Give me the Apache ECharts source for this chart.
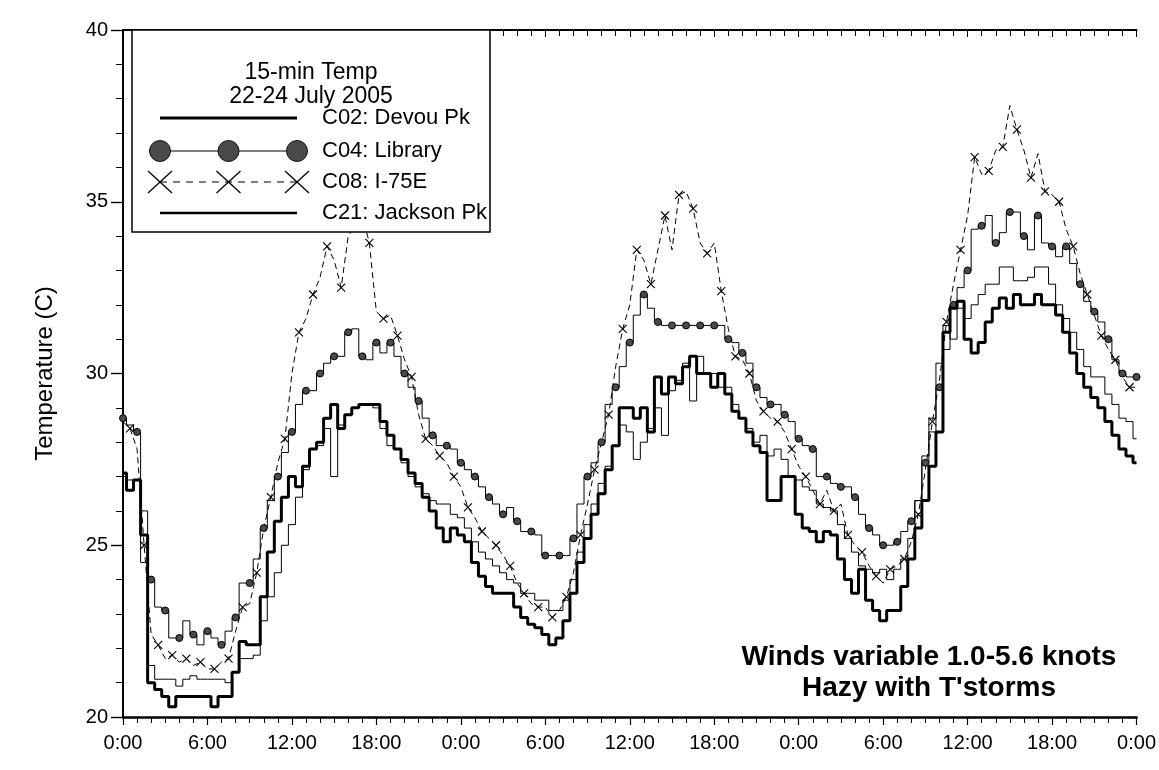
<!DOCTYPE html>
<html>
<head>
<meta charset="utf-8">
<title>15-min Temp, 22-24 July 2005</title>
<script src="https://cdn.jsdelivr.net/npm/echarts@6/dist/echarts.min.js"></script>
<style>
  html, body { margin: 0; padding: 0; background: #fff; }
  #chart { width: 1159px; height: 770px; }
</style>
</head>
<body>
<div id="chart"></div>
<script>
// Time of each reading, in hours since 0:00 on 22 July (half-hourly, 0..72)
const hours = [];
for (let i = 0; i <= 144; i++) hours.push(i * 0.5);

// Clock labels for the 6-hour ticks
const clockLabels = ['0:00', '6:00', '12:00', '18:00'];

// Air temperature (C) per station
const devouPk = [
  27.1, 26.6, 26.9, 25.3, 21.0, 20.8, 20.6, 20.3, 20.6, 20.6,
  20.6, 20.6, 20.6, 20.3, 20.6, 20.6, 21.3, 22.2, 22.1, 22.1,
  23.5, 24.8, 25.7, 26.4, 27.0, 26.7, 27.3, 27.8, 28.0, 28.7,
  29.1, 28.4, 28.8, 29.0, 29.1, 29.1, 29.1, 28.6, 28.2, 27.8,
  27.5, 27.1, 26.8, 26.4, 26.0, 25.5, 25.1, 25.5, 25.3, 25.1,
  24.5, 24.1, 23.8, 23.6, 23.6, 23.6, 23.2, 22.9, 22.7, 22.6,
  22.4, 22.1, 22.3, 22.8, 23.6, 24.5, 25.2, 25.9, 26.5, 27.2,
  27.9, 29.0, 29.0, 28.7, 29.0, 28.3, 29.9, 29.4, 29.9, 29.7,
  30.2, 30.5, 30.0, 30.0, 29.6, 30.0, 29.4, 28.9, 28.7, 28.3,
  27.9, 27.7, 26.3, 26.3, 27.0, 27.0, 25.9, 25.5, 25.4, 25.1,
  25.4, 25.3, 24.6, 24.0, 23.6, 24.3, 23.4, 23.1, 22.8, 23.1,
  23.1, 23.8, 24.6, 25.5, 26.3, 27.3, 28.3, 31.2, 31.9, 32.1,
  31.0, 30.6, 30.9, 31.5, 31.9, 32.2, 31.9, 32.3, 32.0, 32.0,
  32.3, 32.0, 32.0, 31.7, 31.2, 30.6, 30.0, 29.6, 29.3, 29.0,
  28.6, 28.2, 27.8, 27.6, 27.4
];

const library = [
  28.7, 28.5, 28.3, 26.0, 24.0, 23.2, 23.1, 22.3, 22.3, 22.8,
  22.4, 22.1, 22.5, 22.3, 22.1, 22.5, 22.9, 23.9, 23.9, 24.6,
  25.5, 26.3, 27.0, 27.7, 28.3, 29.1, 29.5, 29.5, 30.0, 30.3,
  30.5, 30.5, 31.2, 31.3, 30.5, 30.4, 30.9, 30.6, 30.9, 30.5,
  30.0, 29.6, 29.2, 28.7, 28.2, 27.9, 27.9, 27.8, 27.4, 27.2,
  27.0, 26.7, 26.4, 26.2, 25.9, 26.1, 25.7, 25.4, 25.4, 25.3,
  24.7, 24.7, 24.7, 24.7, 25.2, 26.2, 27.0, 27.4, 28.0, 29.1,
  29.6, 30.2, 30.9, 31.7, 32.3, 31.9, 31.5, 31.4, 31.4, 31.4,
  31.4, 31.4, 31.4, 31.4, 31.4, 31.4, 31.0, 30.9, 30.6, 30.3,
  29.6, 29.3, 29.1, 29.1, 28.8, 28.6, 28.1, 27.9, 27.8, 27.0,
  27.0, 26.8, 26.7, 26.7, 26.4, 25.9, 25.5, 25.3, 25.0, 25.0,
  25.1, 25.4, 25.7, 26.3, 27.4, 28.3, 29.6, 30.7, 32.0, 32.5,
  33.0, 34.2, 34.3, 34.6, 33.8, 34.1, 34.7, 34.7, 34.0, 33.6,
  34.6, 33.8, 33.7, 33.4, 33.7, 33.2, 32.6, 32.1, 31.8, 31.5,
  31.0, 30.4, 30.0, 29.9, 29.9
];

const i75e = [
  28.6, 28.4, 27.8, 25.0, 22.4, 22.1, 21.7, 21.8, 21.6, 21.7,
  21.5, 21.6, 21.4, 21.4, 21.6, 21.7, 22.5, 23.2, 23.3, 24.2,
  25.5, 26.4, 27.4, 28.1, 30.0, 31.2, 31.6, 32.3, 32.8, 33.7,
  33.3, 32.5, 34.0, 34.3, 34.6, 33.8, 31.8, 31.6, 31.7, 31.1,
  30.4, 29.9, 28.8, 28.1, 27.9, 27.6, 27.4, 27.0, 26.7, 26.1,
  25.8, 25.4, 25.2, 25.0, 24.7, 24.4, 23.9, 23.6, 23.3, 23.2,
  23.2, 22.9, 23.1, 23.5, 24.2, 25.3, 26.2, 27.2, 28.0, 28.8,
  30.2, 31.3, 32.0, 33.6, 33.3, 32.6, 33.6, 34.6, 33.6, 35.2,
  35.3, 34.8, 33.8, 33.5, 33.8, 32.4, 31.3, 30.5, 30.4, 30.0,
  29.2, 28.9, 28.7, 28.6, 28.3, 27.8, 27.3, 27.0, 26.6, 26.2,
  26.6, 26.0, 26.2, 25.3, 25.0, 24.8, 24.4, 24.1, 23.9, 24.3,
  24.4, 24.6, 25.1, 25.9, 27.2, 28.6, 29.8, 31.5, 32.6, 33.6,
  34.6, 36.3, 35.8, 35.9, 36.5, 36.6, 37.8, 37.1, 36.5, 35.7,
  36.4, 35.3, 35.2, 35.0, 34.2, 33.7, 32.9, 32.3, 31.7, 31.1,
  30.7, 30.4, 29.9, 29.6, 29.6
];

const jacksonPk = [
  27.0, 26.9, 26.9, 24.5, 21.5, 21.1, 21.1, 21.1, 20.9, 21.1,
  21.2, 21.1, 21.1, 21.1, 21.1, 21.0, 21.3, 21.7, 21.7, 21.8,
  22.8, 23.5, 24.2, 25.0, 25.6, 26.4, 27.2, 27.8, 27.9, 28.4,
  27.0, 28.5, 28.8, 29.0, 29.1, 29.1, 29.0, 28.4, 27.9, 27.8,
  27.4, 27.0, 26.7, 26.5, 26.3, 26.2, 26.2, 25.9, 25.8, 25.5,
  25.1, 24.8, 24.6, 24.4, 24.2, 24.0, 23.9, 23.6, 23.6, 23.4,
  23.4, 23.1, 23.1, 23.4, 24.0, 24.8, 25.6, 26.2, 26.8, 27.3,
  27.9, 28.5, 28.3, 27.5, 28.0, 28.4, 29.0, 28.2, 29.5, 29.8,
  30.3, 29.2, 30.5, 30.0, 30.0, 29.6, 29.6, 29.1, 28.7, 28.4,
  28.0, 28.2, 27.6, 27.8, 27.5, 27.0, 26.9, 26.7, 26.6, 26.2,
  26.1, 26.0, 25.6, 25.2, 24.8, 24.4, 24.3, 24.2, 24.3, 24.0,
  24.3, 24.6, 25.2, 26.3, 27.6, 28.7, 30.3, 31.4, 31.0, 31.9,
  31.6, 32.0, 32.3, 32.6, 32.6, 33.1, 33.1, 32.7, 32.7, 32.8,
  33.1, 33.1, 32.6, 32.0, 31.6, 31.2, 30.7, 30.2, 29.9, 29.9,
  29.4, 29.1, 28.7, 28.6, 28.1
];

const stationNames = ['C02: Devou Pk', 'C04: Library', 'C08: I-75E', 'C21: Jackson Pk'];

const pair = vals => hours.map((h, i) => [h, vals[i]]);
const FONT = '"Liberation Sans", Arial, sans-serif';
const CROSS = 'path://M0,0L10,10M10,0L0,10';
const TOP_Z = 100;

const chart = echarts.init(document.getElementById('chart'), null, { renderer: 'canvas' });

const baseX = {
  type: 'value', min: 0, max: 72, interval: 6,
  splitLine: { show: false }
};
const baseY = {
  type: 'value', min: 20, max: 40, interval: 5,
  splitLine: { show: false }
};

function centeredText(x, y, text, font, align) {
  return {
    type: 'text', z: TOP_Z + 2,
    style: {
      x: x, y: y, text: text, font: font, fill: '#000',
      align: align, verticalAlign: 'middle', textAlign: align, textVerticalAlign: 'middle'
    }
  };
}

// Legend box drawn over the plot area (white fill hides lines behind it)
const legendRows = [118, 151, 182, 213];
const sampleX = [160, 228.5, 297];
const legendEls = [
  { type: 'rect', z: TOP_Z, shape: { x: 132, y: 30, width: 358, height: 202 },
    style: { fill: '#fff', stroke: '#000', lineWidth: 1.5 } },
  centeredText(311, 73, '15-min Temp', '23px ' + FONT, 'center'),
  centeredText(311, 97, '22-24 July 2005', '23px ' + FONT, 'center'),
  { type: 'line', z: TOP_Z + 1, shape: { x1: 160, y1: legendRows[0], x2: 297, y2: legendRows[0] },
    style: { stroke: '#000', lineWidth: 3 } },
  { type: 'line', z: TOP_Z + 1, shape: { x1: 160, y1: legendRows[1], x2: 297, y2: legendRows[1] },
    style: { stroke: '#000', lineWidth: 1 } },
  { type: 'line', z: TOP_Z + 1, shape: { x1: 160, y1: legendRows[2], x2: 297, y2: legendRows[2] },
    style: { stroke: '#000', lineWidth: 1.2, lineDash: [7, 6] } },
  { type: 'line', z: TOP_Z + 1, shape: { x1: 160, y1: legendRows[3], x2: 297, y2: legendRows[3] },
    style: { stroke: '#000', lineWidth: 2.5 } }
];
sampleX.forEach(x => {
  legendEls.push({ type: 'circle', z: TOP_Z + 2, shape: { cx: x, cy: legendRows[1], r: 10.5 },
    style: { fill: '#4a4a4a', stroke: '#111', lineWidth: 1 } });
  legendEls.push({ type: 'polyline', z: TOP_Z + 2,
    shape: { points: [[x - 12, legendRows[2] - 11], [x + 12, legendRows[2] + 11]] },
    style: { stroke: '#000', lineWidth: 1.3, fill: null } });
  legendEls.push({ type: 'polyline', z: TOP_Z + 2,
    shape: { points: [[x - 12, legendRows[2] + 11], [x + 12, legendRows[2] - 11]] },
    style: { stroke: '#000', lineWidth: 1.3, fill: null } });
});
stationNames.forEach((name, i) => {
  legendEls.push(centeredText(322, legendRows[i], name, '22px ' + FONT, 'left'));
});

const option = {
  animation: false,
  backgroundColor: '#fff',
  textStyle: { fontFamily: FONT, color: '#000' },
  grid: { left: 123, right: 21, top: 30, bottom: 53, containLabel: false },
  xAxis: [
    Object.assign({}, baseX, {
      position: 'bottom',
      axisLine: { show: true, lineStyle: { color: '#000', width: 2.5 } },
      axisTick: { show: true, inside: false, length: 8, lineStyle: { color: '#000', width: 1.2 } },
      minorTick: { show: true, splitNumber: 6, length: 6, lineStyle: { color: '#000', width: 1 } },
      axisLabel: {
        show: true, margin: 16, fontSize: 20, color: '#000', fontFamily: FONT,
        formatter: v => clockLabels[(v % 24) / 6]
      }
    }),
    Object.assign({}, baseX, {
      position: 'top',
      axisLine: { show: true, lineStyle: { color: '#000', width: 2 } },
      axisTick: { show: true, inside: true, length: 7, lineStyle: { color: '#000', width: 1 } },
      minorTick: { show: true, splitNumber: 6, length: 6, lineStyle: { color: '#000', width: 1 } },
      axisLabel: { show: false }
    })
  ],
  yAxis: [
    Object.assign({}, baseY, {
      position: 'left',
      name: 'Temperature (C)', nameLocation: 'middle', nameGap: 66,
      nameTextStyle: { fontSize: 24, color: '#000', fontFamily: FONT },
      axisLine: { show: true, lineStyle: { color: '#222', width: 1.5 } },
      axisTick: { show: true, inside: false, length: 12, lineStyle: { color: '#000', width: 1.2 } },
      minorTick: { show: true, splitNumber: 5, length: 7, lineStyle: { color: '#000', width: 1 } },
      axisLabel: { show: true, margin: 15, fontSize: 20, color: '#000', fontFamily: FONT }
    }),
    Object.assign({}, baseY, {
      position: 'right',
      axisLine: { show: true, lineStyle: { color: '#000', width: 2 } },
      axisTick: { show: true, inside: true, length: 12, lineStyle: { color: '#000', width: 1.2 } },
      minorTick: { show: true, splitNumber: 5, length: 7, lineStyle: { color: '#000', width: 1 } },
      axisLabel: { show: false }
    })
  ],
  series: [
    {
      name: stationNames[3], type: 'line', data: pair(jacksonPk),
      step: 'middle', showSymbol: false, z: 2,
      lineStyle: { color: '#000', width: 1 }, emphasis: { disabled: true }
    },
    {
      name: stationNames[2], type: 'line', data: pair(i75e),
      symbol: CROSS, showAllSymbol: true, z: 3,
      symbolSize: (v, p) => (p.dataIndex % 2 === 1 ? 8 : 0),
      itemStyle: { color: 'rgba(0,0,0,0)', borderColor: '#000', borderWidth: 1.1 },
      lineStyle: { color: '#000', width: 1, type: [6, 4] }, emphasis: { disabled: true }
    },
    {
      name: stationNames[1], type: 'line', data: pair(library),
      step: 'middle', symbol: 'circle', showAllSymbol: true, z: 4,
      symbolSize: (v, p) => (p.dataIndex % 2 === 0 ? 7 : 0),
      itemStyle: { color: '#4a4a4a', borderColor: '#000', borderWidth: 1 },
      lineStyle: { color: '#000', width: 1 }, emphasis: { disabled: true }
    },
    {
      name: stationNames[0], type: 'line', data: pair(devouPk),
      step: 'middle', showSymbol: false, z: 5,
      lineStyle: { color: '#000', width: 3 }, emphasis: { disabled: true }
    }
  ],
  graphic: legendEls.concat([
    centeredText(929, 657, 'Winds variable 1.0-5.6 knots', 'bold 28px ' + FONT, 'center'),
    centeredText(929, 688, "Hazy with T'storms", 'bold 28px ' + FONT, 'center')
  ])
};

chart.setOption(option);
</script>
</body>
</html>
